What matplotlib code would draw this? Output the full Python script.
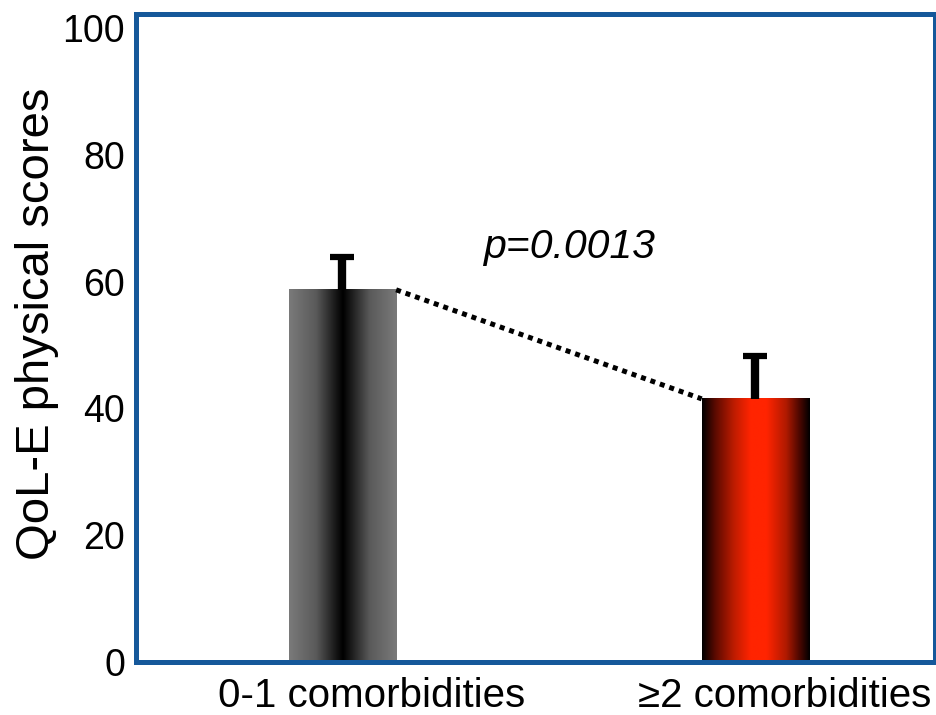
import numpy as np
import matplotlib
matplotlib.use("Agg")
import matplotlib.pyplot as plt
from matplotlib.colors import LinearSegmentedColormap
import matplotlib.transforms as mtransforms

plt.rcParams['font.family'] = ['Liberation Sans', 'DejaVu Sans']

categories = ['0-1 comorbidities', '≥2 comorbidities']
values = [58.7, 41.5]
errors = [5.2, 6.8]
yticks = [0, 20, 40, 60, 80, 100]
p_text = 'p=0.0013'

fig = plt.figure(figsize=(9.37, 7.15), dpi=100)
ax = fig.add_axes([136/937, 1-662/715, (935-136)/937, (662-14)/715])

x = np.arange(len(categories))
width = 0.26
bars = ax.bar(x, values, width=width, color='none', edgecolor='none', zorder=2)

# gradient fills
t = np.linspace(0, 1, 256)
gray_cmap = LinearSegmentedColormap.from_list('g', [(0, '#7a7a7a'), (0.25, '#5a5a5a'), (0.45, '#111111'),
                                                  (0.5, '#000000'), (0.55, '#111111'), (0.75, '#5a5a5a'), (1, '#7a7a7a')])
red_cmap = LinearSegmentedColormap.from_list('r', [(0, '#000000'), (0.12, '#5a0a00'), (0.3, '#c01c00'),
                                                 (0.45, '#ff2400'), (0.6, '#ff2400'), (0.78, '#b01a00'), (0.9, '#500800'), (1, '#000000')])
for bar, cmap in zip(bars, [gray_cmap, red_cmap]):
    x0, y0 = bar.get_x(), bar.get_y()
    w, h = bar.get_width(), bar.get_height()
    ax.imshow(t[np.newaxis, :], extent=[x0, x0 + w, y0, y0 + h], aspect='auto',
              cmap=cmap, zorder=2, interpolation='bilinear')

eb = ax.errorbar(x, values, yerr=[[0]*len(values), errors], fmt='none', ecolor='black',
                 elinewidth=6, capsize=8.5, capthick=4.5, zorder=3)
# show only the upper caps
eb[1][0].set_visible(False)

# dotted connector
ax.plot([x[0] + width/2, x[1] - width/2], [values[0], values[1]], linestyle=(0, (1, 1)),
        color='black', linewidth=3.6, zorder=4, solid_capstyle='butt', dash_capstyle='butt')

ax.text(0.548, 65.5, p_text, style='italic', fontsize=29.5, ha='center', va='center')

ax.set_xlim(-0.5, 1.435)
ax.set_ylim(0, 102.2)
ax.set_yticks(yticks)
ax.set_yticklabels([str(v) for v in yticks], fontsize=27)
ax.set_xticks(x)
ax.set_xticklabels(categories, fontsize=29)
ax.tick_params(axis='both', length=0)
ax.tick_params(axis='y', pad=8)
ax.tick_params(axis='x', pad=11)
offset = mtransforms.ScaledTranslation(29/100, 0, fig.dpi_scale_trans)
for lab in ax.get_xticklabels():
    lab.set_transform(lab.get_transform() + offset)

ax.set_ylabel('QoL-E physical scores', fontsize=34)
ax.yaxis.set_label_coords(-0.0963, 0.5216)

for sp in ax.spines.values():
    sp.set_color('#15589a')
    sp.set_linewidth(3.6)
    sp.set_zorder(5)

fig.savefig('out.png', dpi=100)
